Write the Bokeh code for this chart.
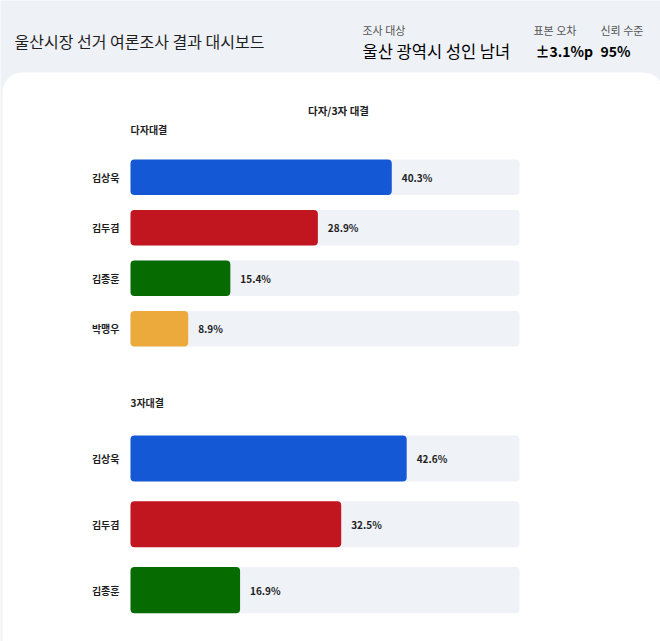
from bokeh.plotting import figure
from bokeh.models import Range1d, Label, BoxAnnotation, ColumnDataSource
from bokeh.embed import file_html
from bokeh.resources import INLINE
from bokeh.core.properties import value

# ---------------- data ----------------
dashboard_title = "울산시장 선거 여론조사 결과 대시보드"
info_keys = ["조사 대상", "표본 오차", "신뢰 수준"]
info_values = ["울산 광역시 성인 남녀", "±3.1%p", "95%"]

chart_title = "다자/3자 대결"

multi_title = "다자대결"
multi_names = ["김상욱", "김두겸", "김종훈", "박맹우"]
multi_values = [40.3, 28.9, 15.4, 8.9]
multi_colors = ["#1558d6", "#c1151f", "#066b00", "#ebaa3b"]

three_title = "3자대결"
three_names = ["김상욱", "김두겸", "김종훈"]
three_values = [42.6, 32.5, 16.9]
three_colors = ["#1558d6", "#c1151f", "#066b00"]

scale_max = 60  # the grey track represents 0..60 %

# ---------------- style / layout ----------------
FONT = "Noto Sans CJK KR"
HEADER_BG = "#eef1f6"
TRACK = "#eff2f7"
TEXT = "#1e1e1e"
W, H = 660, 641
bar0_px = 130          # where 0 % sits
bar1_px = 519          # where scale_max sits
ppu = (bar1_px - bar0_px) / scale_max

p = figure(width=W, height=H, x_range=Range1d(0, W), y_range=Range1d(H, 0),
           min_border=0, toolbar_location=None, output_backend="svg",
           x_axis_location=None, y_axis_location=None)
p.grid.visible = False
p.outline_line_color = None
p.background_fill_color = HEADER_BG
p.border_fill_color = HEADER_BG


def row_range(first_px, step):
    return Range1d(start=(H - first_px) / step, end=-first_px / step)


p.extra_x_ranges = {"pct": Range1d(-bar0_px / ppu, (W - bar0_px) / ppu)}
p.extra_y_ranges = {
    "multi": row_range(176.7, 50.5),
    "three": row_range(458.0, 65.8),
}

# white card
card = BoxAnnotation(left=2, right=663, top=72, bottom=H + 40,
                     fill_color="white", fill_alpha=1, line_color=None,
                     border_radius=20, level="underlay")
p.add_layout(card)

# header texts
p.add_layout(Label(x=14, y=40, text=dashboard_title, text_font=FONT,
                   text_font_size="16px", text_color=TEXT, text_baseline="middle"))
key_x = [362, 533, 600]
val_x = [362, 535, 600]
val_sizes = ["16.5px", "14px", "14px"]
for k, v, kx, vx, vs in zip(info_keys, info_values, key_x, val_x, val_sizes):
    p.add_layout(Label(x=kx, y=29.5, text=k, text_font=FONT,
                       text_font_size="11px", text_color="#555555",
                       text_baseline="middle"))
    p.add_layout(Label(x=vx, y=50, text=v, text_font=FONT,
                       text_font_size=vs, text_color="#000000",
                       text_font_style="bold" if vs != "16.5px" else "normal",
                       text_baseline="middle"))

# chart title
p.add_layout(Label(x=338, y=110, text=chart_title, text_font=FONT,
                   text_font_size="10.5px", text_font_style="bold",
                   text_color=TEXT, text_align="center", text_baseline="middle"))


def section(title, title_y, names, values, colors, yname, height):
    p.add_layout(Label(x=0, y=title_y, x_range_name="pct", text=title,
                       text_font=FONT, text_font_size="10px",
                       text_font_style="bold", text_color=TEXT,
                       text_baseline="middle"))
    src = ColumnDataSource(dict(
        y=list(range(len(names))), name=names, v=values, color=colors,
        lbl=[f"{x:.1f}%" for x in values], full=[scale_max] * len(names)))
    p.hbar(y="y", left=0, right="full", height=height, source=src,
           fill_color=TRACK, line_color=None, border_radius=4,
           x_range_name="pct", y_range_name=yname)
    p.hbar(y="y", left=0, right="v", height=height, source=src,
           fill_color="color", line_color=None, border_radius=4,
           x_range_name="pct", y_range_name=yname)
    p.text(x=0, y="y", text="name", source=src, x_offset=-11,
           text_align="right", text_baseline="middle",
           text_font=value(FONT), text_font_size="10px",
           text_font_style="bold", text_color=TEXT,
           x_range_name="pct", y_range_name=yname)
    p.text(x="v", y="y", text="lbl", source=src, x_offset=10,
           text_align="left", text_baseline="middle",
           text_font=value(FONT), text_font_size="10px",
           text_font_style="bold", text_color=TEXT,
           x_range_name="pct", y_range_name=yname)


section(multi_title, 129, multi_names, multi_values, multi_colors, "multi", 0.70)
section(three_title, 402, three_names, three_values, three_colors, "three", 0.70)

open("out.html", "w").write(file_html(p, INLINE))
